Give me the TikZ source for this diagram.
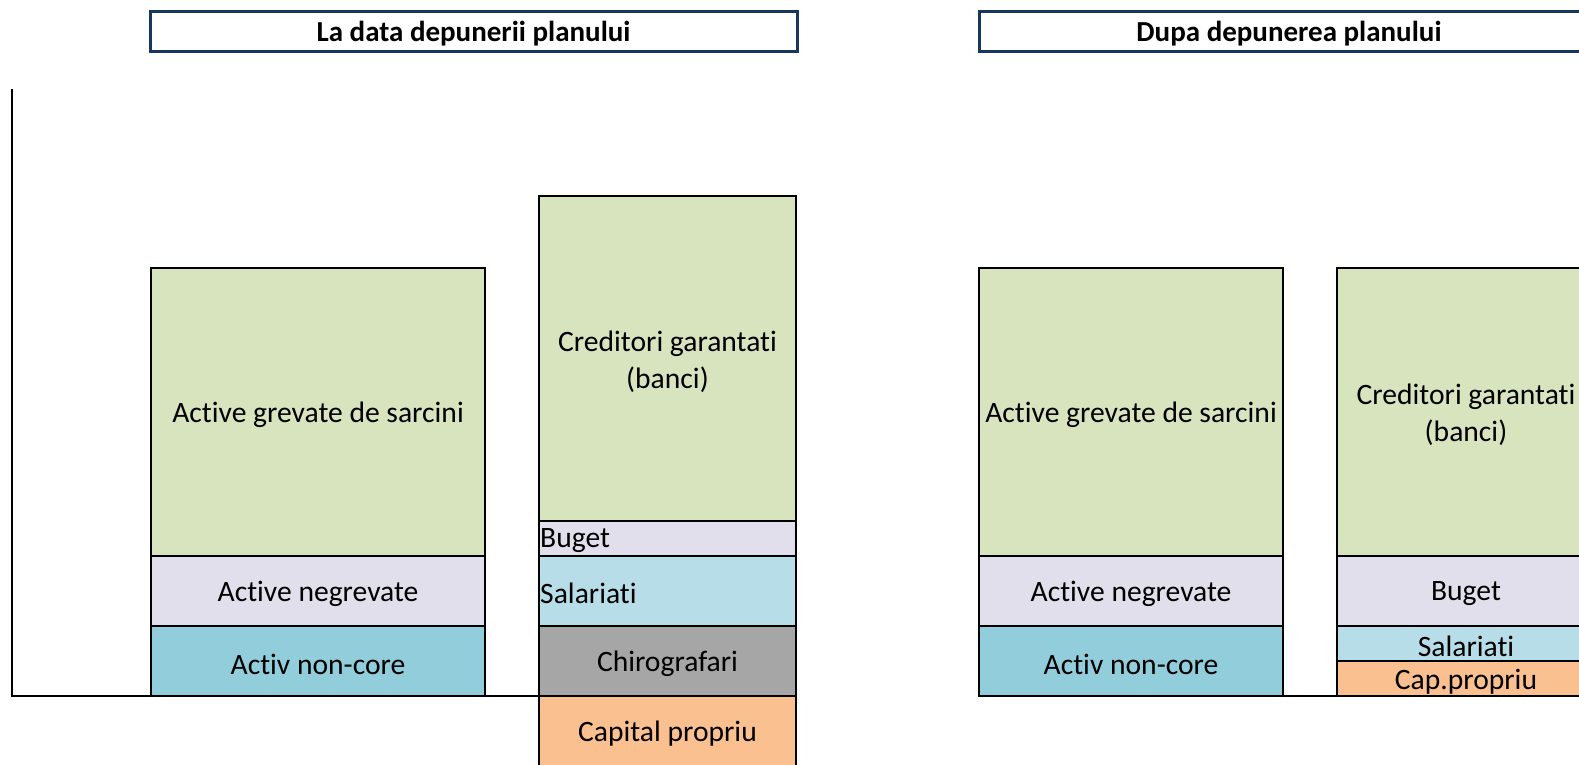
\documentclass[tikz,border=0pt]{standalone}
\usepackage{fontspec}
\setmainfont{Carlito}[Ligatures={NoCommon,NoRare}]
\definecolor{cgreen}{HTML}{D7E4BD}
\definecolor{clav}{HTML}{E2DFEC}
\definecolor{cteal}{HTML}{92CDDC}
\definecolor{clblue}{HTML}{B7DEE8}
\definecolor{cgray}{HTML}{A6A6A6}
\definecolor{corange}{HTML}{FAC090}
\definecolor{cnavy}{HTML}{17375E}
\newcommand\bodyfont{\fontsize{29.6}{37}\selectfont}
\newcommand\titlefont{\fontsize{29}{34}\selectfont\bfseries}
\begin{document}
\begin{tikzpicture}[x=1pt,y=-1pt,
  seg/.style={draw=black, line width=2.2pt, inner sep=0pt, outer sep=0pt, anchor=north west},
  txt/.style={label={[align=center, font=\bodyfont, inner sep=0pt, yshift=-3pt]center:{#1}}},
  lbl/.style={anchor=west, inner sep=1pt, font=\bodyfont, yshift=-2pt},
  titlebox/.style={draw=cnavy, line width=3pt, fill=white, inner sep=0pt, outer sep=0pt, anchor=north west, font=\titlefont, minimum height=40pt, text depth=0pt, text height=20pt},
  axis/.style={draw=black, line width=2.2pt}]
\path[use as bounding box, clip] (0,0) rectangle (1579,765);
% titles
\node[titlebox, minimum width=647pt] (t1) at (150,12) {La data depunerii planului};
\node[titlebox, minimum width=620pt] (t2) at (979,12) {Dupa depunerea planului};
% left chart, column A
\node[seg, fill=cgreen, minimum width=334pt, minimum height=288pt, txt={Active grevate de sarcini}] (aGrev) at (151,268) {};
\node[seg, fill=clav, minimum width=334pt, minimum height=70pt, txt={Active negrevate}] (aNeg) at (151,556) {};
\node[seg, fill=cteal, minimum width=334pt, minimum height=70pt, txt={Activ non-core}] (aNC) at (151,626) {};
% left chart, column B
\node[seg, fill=cgreen, minimum width=257pt, minimum height=325pt, txt={Creditori garantati\\(banci)}] (bCred) at (539,196) {};
\node[seg, fill=clav, minimum width=257pt, minimum height=35pt] (bBug) at (539,521) {};
\node[lbl] (bBugL) at (bBug.west) {Buget};
\node[seg, fill=clblue, minimum width=257pt, minimum height=70pt] (bSal) at (539,556) {};
\node[lbl] (bSalL) at (bSal.west) {Salariati};
\node[seg, fill=cgray, minimum width=257pt, minimum height=70pt, txt={Chirografari}] (bChi) at (539,626) {};
\node[seg, fill=corange, minimum width=257pt, minimum height=70pt, txt={Capital propriu}] (bCap) at (539,696) {};
% axis
\coordinate (axTop) at (12,89);
\coordinate (axO) at (12,696);
\draw[axis] (axTop) -- (axO) -- (bChi.south west);
% right chart, column C
\node[seg, fill=cgreen, minimum width=304pt, minimum height=288pt, txt={Active grevate de sarcini}] (cGrev) at (979,268) {};
\node[seg, fill=clav, minimum width=304pt, minimum height=70pt, txt={Active negrevate}] (cNeg) at (979,556) {};
\node[seg, fill=cteal, minimum width=304pt, minimum height=70pt, txt={Activ non-core}] (cNC) at (979,626) {};
% right chart, column D
\node[seg, fill=cgreen, minimum width=258pt, minimum height=288pt, txt={Creditori garantati\\(banci)}] (dCred) at (1337,268) {};
\node[seg, fill=clav, minimum width=258pt, minimum height=70pt, txt={Buget}] (dBug) at (1337,556) {};
\node[seg, fill=clblue, minimum width=258pt, minimum height=35pt, txt={Salariati}] (dSal) at (1337,626) {};
\node[seg, fill=corange, minimum width=258pt, minimum height=35pt, txt={Cap.propriu}] (dCap) at (1337,661) {};
\draw[axis] (cNC.south west) -- (dCap.south east);
\end{tikzpicture}
\end{document}
